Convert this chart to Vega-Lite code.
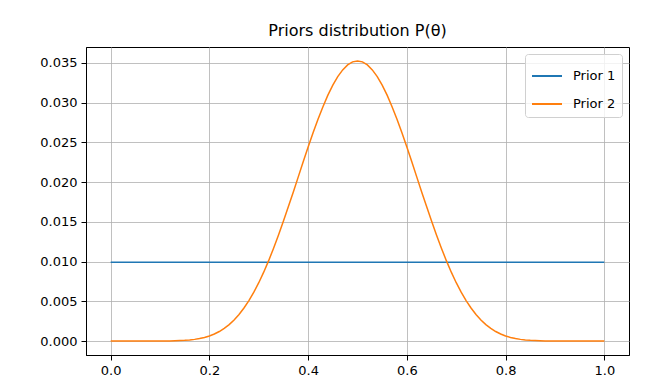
{
  "$schema": "https://vega.github.io/schema/vega-lite/v6.json",
  "autosize": "none",
  "width": 543,
  "height": 308,
  "padding": {"left": 86, "top": 47, "right": 37, "bottom": 36},
  "background": "white",
  "title": {"text": "Priors distribution P(θ)", "font": "DejaVu Sans", "fontSize": 16, "fontWeight": "normal", "color": "black", "offset": 8},
  "config": {
    "font": "DejaVu Sans",
    "view": {"stroke": "black", "strokeWidth": 1},
    "axis": {
      "domainColor": "black", "domainWidth": 1,
      "tickColor": "black", "tickSize": 5, "tickWidth": 1,
      "labelFont": "DejaVu Sans", "labelFontSize": 13, "labelColor": "black",
      "grid": true, "gridColor": "#b0b0b0", "gridWidth": 0.8,
      "title": null
    }
  },
  "data": {"values": [
    {"x": 0.0, "p": 0.0099, "series": "Prior 1"},
    {"x": 0.1, "p": 0.0099, "series": "Prior 1"},
    {"x": 0.2, "p": 0.0099, "series": "Prior 1"},
    {"x": 0.3, "p": 0.0099, "series": "Prior 1"},
    {"x": 0.4, "p": 0.0099, "series": "Prior 1"},
    {"x": 0.5, "p": 0.0099, "series": "Prior 1"},
    {"x": 0.6, "p": 0.0099, "series": "Prior 1"},
    {"x": 0.7, "p": 0.0099, "series": "Prior 1"},
    {"x": 0.8, "p": 0.0099, "series": "Prior 1"},
    {"x": 0.9, "p": 0.0099, "series": "Prior 1"},
    {"x": 1.0, "p": 0.0099, "series": "Prior 1"},
    {"x": 0.00, "p": 0, "series": "Prior 2"},
    {"x": 0.01, "p": 0, "series": "Prior 2"},
    {"x": 0.02, "p": 0, "series": "Prior 2"},
    {"x": 0.03, "p": 0.0000000001, "series": "Prior 2"},
    {"x": 0.04, "p": 0.0000000017, "series": "Prior 2"},
    {"x": 0.05, "p": 0.0000000114, "series": "Prior 2"},
    {"x": 0.06, "p": 0.000000053, "series": "Prior 2"},
    {"x": 0.07, "p": 0.000000194, "series": "Prior 2"},
    {"x": 0.08, "p": 0.000000585, "series": "Prior 2"},
    {"x": 0.09, "p": 0.00000153, "series": "Prior 2"},
    {"x": 0.10, "p": 0.00000358, "series": "Prior 2"},
    {"x": 0.11, "p": 0.00000762, "series": "Prior 2"},
    {"x": 0.12, "p": 0.0000151, "series": "Prior 2"},
    {"x": 0.13, "p": 0.000028, "series": "Prior 2"},
    {"x": 0.14, "p": 0.0000492, "series": "Prior 2"},
    {"x": 0.15, "p": 0.0000823, "series": "Prior 2"},
    {"x": 0.16, "p": 0.000132, "series": "Prior 2"},
    {"x": 0.17, "p": 0.000205, "series": "Prior 2"},
    {"x": 0.18, "p": 0.000307, "series": "Prior 2"},
    {"x": 0.19, "p": 0.000447, "series": "Prior 2"},
    {"x": 0.20, "p": 0.000635, "series": "Prior 2"},
    {"x": 0.21, "p": 0.00088, "series": "Prior 2"},
    {"x": 0.22, "p": 0.001193, "series": "Prior 2"},
    {"x": 0.23, "p": 0.001584, "series": "Prior 2"},
    {"x": 0.24, "p": 0.002064, "series": "Prior 2"},
    {"x": 0.25, "p": 0.002645, "series": "Prior 2"},
    {"x": 0.26, "p": 0.003336, "series": "Prior 2"},
    {"x": 0.27, "p": 0.004149, "series": "Prior 2"},
    {"x": 0.28, "p": 0.005082, "series": "Prior 2"},
    {"x": 0.29, "p": 0.006145, "series": "Prior 2"},
    {"x": 0.30, "p": 0.007336, "series": "Prior 2"},
    {"x": 0.31, "p": 0.00866, "series": "Prior 2"},
    {"x": 0.32, "p": 0.01011, "series": "Prior 2"},
    {"x": 0.33, "p": 0.01167, "series": "Prior 2"},
    {"x": 0.34, "p": 0.01333, "series": "Prior 2"},
    {"x": 0.35, "p": 0.01509, "series": "Prior 2"},
    {"x": 0.36, "p": 0.01691, "series": "Prior 2"},
    {"x": 0.37, "p": 0.01876, "series": "Prior 2"},
    {"x": 0.38, "p": 0.02065, "series": "Prior 2"},
    {"x": 0.39, "p": 0.02255, "series": "Prior 2"},
    {"x": 0.40, "p": 0.02441, "series": "Prior 2"},
    {"x": 0.41, "p": 0.0262, "series": "Prior 2"},
    {"x": 0.42, "p": 0.02791, "series": "Prior 2"},
    {"x": 0.43, "p": 0.02948, "series": "Prior 2"},
    {"x": 0.44, "p": 0.03093, "series": "Prior 2"},
    {"x": 0.45, "p": 0.03219, "series": "Prior 2"},
    {"x": 0.46, "p": 0.03327, "series": "Prior 2"},
    {"x": 0.47, "p": 0.03411, "series": "Prior 2"},
    {"x": 0.48, "p": 0.03474, "series": "Prior 2"},
    {"x": 0.49, "p": 0.03512, "series": "Prior 2"},
    {"x": 0.50, "p": 0.03523, "series": "Prior 2"},
    {"x": 0.51, "p": 0.03512, "series": "Prior 2"},
    {"x": 0.52, "p": 0.03474, "series": "Prior 2"},
    {"x": 0.53, "p": 0.03411, "series": "Prior 2"},
    {"x": 0.54, "p": 0.03327, "series": "Prior 2"},
    {"x": 0.55, "p": 0.03219, "series": "Prior 2"},
    {"x": 0.56, "p": 0.03093, "series": "Prior 2"},
    {"x": 0.57, "p": 0.02948, "series": "Prior 2"},
    {"x": 0.58, "p": 0.02791, "series": "Prior 2"},
    {"x": 0.59, "p": 0.0262, "series": "Prior 2"},
    {"x": 0.60, "p": 0.02441, "series": "Prior 2"},
    {"x": 0.61, "p": 0.02255, "series": "Prior 2"},
    {"x": 0.62, "p": 0.02065, "series": "Prior 2"},
    {"x": 0.63, "p": 0.01876, "series": "Prior 2"},
    {"x": 0.64, "p": 0.01691, "series": "Prior 2"},
    {"x": 0.65, "p": 0.01509, "series": "Prior 2"},
    {"x": 0.66, "p": 0.01333, "series": "Prior 2"},
    {"x": 0.67, "p": 0.01167, "series": "Prior 2"},
    {"x": 0.68, "p": 0.01011, "series": "Prior 2"},
    {"x": 0.69, "p": 0.00866, "series": "Prior 2"},
    {"x": 0.70, "p": 0.007336, "series": "Prior 2"},
    {"x": 0.71, "p": 0.006145, "series": "Prior 2"},
    {"x": 0.72, "p": 0.005082, "series": "Prior 2"},
    {"x": 0.73, "p": 0.004149, "series": "Prior 2"},
    {"x": 0.74, "p": 0.003336, "series": "Prior 2"},
    {"x": 0.75, "p": 0.002645, "series": "Prior 2"},
    {"x": 0.76, "p": 0.002064, "series": "Prior 2"},
    {"x": 0.77, "p": 0.001584, "series": "Prior 2"},
    {"x": 0.78, "p": 0.001193, "series": "Prior 2"},
    {"x": 0.79, "p": 0.00088, "series": "Prior 2"},
    {"x": 0.80, "p": 0.000635, "series": "Prior 2"},
    {"x": 0.81, "p": 0.000447, "series": "Prior 2"},
    {"x": 0.82, "p": 0.000307, "series": "Prior 2"},
    {"x": 0.83, "p": 0.000205, "series": "Prior 2"},
    {"x": 0.84, "p": 0.000132, "series": "Prior 2"},
    {"x": 0.85, "p": 0.0000823, "series": "Prior 2"},
    {"x": 0.86, "p": 0.0000492, "series": "Prior 2"},
    {"x": 0.87, "p": 0.000028, "series": "Prior 2"},
    {"x": 0.88, "p": 0.0000151, "series": "Prior 2"},
    {"x": 0.89, "p": 0.00000762, "series": "Prior 2"},
    {"x": 0.90, "p": 0.00000358, "series": "Prior 2"},
    {"x": 0.91, "p": 0.00000153, "series": "Prior 2"},
    {"x": 0.92, "p": 0.000000585, "series": "Prior 2"},
    {"x": 0.93, "p": 0.000000194, "series": "Prior 2"},
    {"x": 0.94, "p": 0.000000053, "series": "Prior 2"},
    {"x": 0.95, "p": 0.0000000114, "series": "Prior 2"},
    {"x": 0.96, "p": 0.0000000017, "series": "Prior 2"},
    {"x": 0.97, "p": 0.0000000001, "series": "Prior 2"},
    {"x": 0.98, "p": 0, "series": "Prior 2"},
    {"x": 0.99, "p": 0, "series": "Prior 2"},
    {"x": 1.00, "p": 0, "series": "Prior 2"}
  ]},
  "mark": {"type": "line", "strokeWidth": 1.5, "clip": true},
  "encoding": {
    "x": {"field": "x", "type": "quantitative",
      "scale": {"domain": [-0.05, 1.05], "nice": false, "zero": false},
      "axis": {"values": [0, 0.2, 0.4, 0.6, 0.8, 1.0], "format": ".1f", "labelPadding": 4}},
    "y": {"field": "p", "type": "quantitative",
      "scale": {"domain": [-0.00176, 0.03699], "nice": false, "zero": false},
      "axis": {"values": [0, 0.005, 0.01, 0.015, 0.02, 0.025, 0.03, 0.035], "format": ".3f", "labelPadding": 4}},
    "color": {"field": "series", "type": "nominal",
      "scale": {"domain": ["Prior 1", "Prior 2"], "range": ["#1f77b4", "#ff7f0e"]},
      "legend": {
        "title": null, "orient": "top-right", "offset": 7,
        "symbolType": "stroke", "symbolSize": 900, "symbolStrokeWidth": 2,
        "labelFont": "DejaVu Sans", "labelFontSize": 13, "labelColor": "black",
        "labelOffset": 10, "rowPadding": 5,
        "padding": 6, "strokeColor": "#d0d0d0", "fillColor": "rgba(255,255,255,0.8)",
        "cornerRadius": 3
      }
    }
  }
}
